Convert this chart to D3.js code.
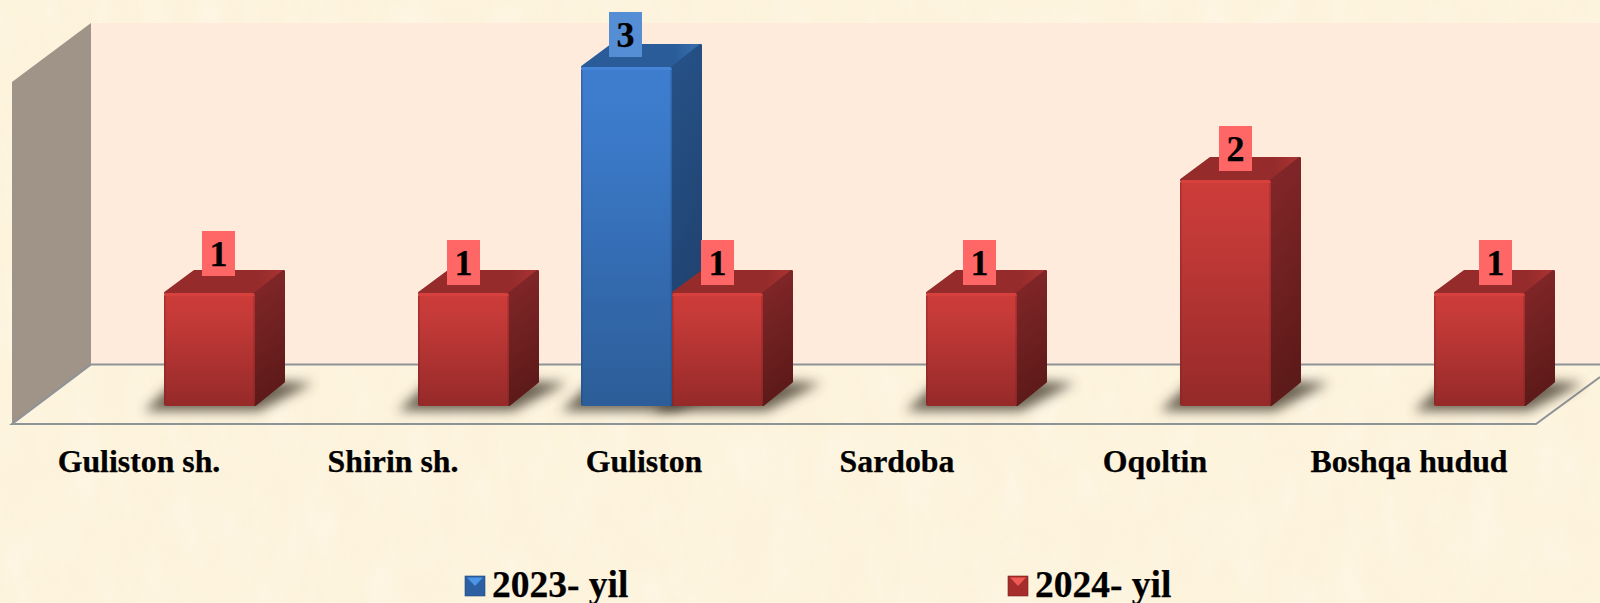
<!DOCTYPE html>
<html><head><meta charset="utf-8">
<script src="https://cdn.jsdelivr.net/npm/d3@7/dist/d3.min.js"></script>
<style>html,body{margin:0;padding:0;background:#fdf3dc;overflow:hidden}svg{display:block}text{font-family:"Liberation Serif",serif;font-weight:bold;fill:#000;stroke:#000;stroke-width:.25px}</style>
</head><body><svg id="c" width="1600" height="603"></svg>
<script>
const categories = ["Guliston sh.","Shirin sh.","Guliston","Sardoba","Oqoltin","Boshqa hudud"];
const seriesNames = ["2023- yil","2024- yil"];
const values2023 = [0,0,3,0,0,0];
const values2024 = [1,1,1,1,2,1];
// hand placement of the reference's data labels and category labels
const labelShift2023 = [[0,0],[0,0],[-1,-2],[0,0],[0,0],[0,0]];
const labelShift2024 = [[9,-9],[0,0],[0,0],[8,0],[10,-1],[16,0]];
const categoryShift = [0,0,-3,-4,0,0];

const W=1600,H=603,dx=30,dy=23;
const svg=d3.select("#c"), defs=svg.append("defs");
const y=d3.scaleLinear().domain([0,3]).range([406,67]);
const xFloor=d3.scaleBand().domain(categories).range([12,1536]);
const xGroup=d3.scaleBand().domain(categories).range([37,1561]).paddingInner(72/254).paddingOuter(36/254);
const xSer=d3.scaleBand().domain(seriesNames).range([0,xGroup.bandwidth()]);

function lg(id,stops,x2=0,y2=1){const g=defs.append("linearGradient").attr("id",id).attr("x1",0).attr("y1",0).attr("x2",x2).attr("y2",y2);
  stops.forEach(([o,c])=>g.append("stop").attr("offset",o).attr("stop-color",c));}
const pal=[
 {name:"b",front:["#3f7ecf","#3b79c8","#2c5d98"],side:["#265288","#1f3f6b"],top:["#2a5c9a","#2a5c9a","#3a70b0"],hi:"#4485d8",edge:"#1f4a80",label:"#558ed5",swA:"#4b96ea",swB:"#2d60a2"},
 {name:"r",front:["#cd3c39","#c43a38","#952a29"],side:["#85272a","#5c1a18"],top:["#952b2b","#952b2b","#ab3432"],hi:"#d6403c",edge:"#7c2020",label:"#ff6666",swA:"#f05a55",swB:"#a52d2c"}];
pal.forEach(p=>{
  lg("f"+p.name,[[0,p.front[0]],[.22,p.front[1]],[1,p.front[2]]]);
  lg("s"+p.name,[[0,p.side[0]],[1,p.side[1]]],.15,1);
  lg("t"+p.name,[[0,p.top[0]],[.78,p.top[1]],[1,p.top[2]]],1,0);
});
const soft=(id,s)=>defs.append("filter").attr("id",id).attr("x","-30%").attr("y","-60%").attr("width","160%").attr("height","220%").append("feGaussianBlur").attr("stdDeviation",s);
soft("sh",6); soft("edge",.7);

const noise=(id,fx,fy,seed,col,a,b)=>{const f=defs.append("filter").attr("id",id).attr("x",0).attr("y",0).attr("width","100%").attr("height","100%");
  f.append("feTurbulence").attr("type","fractalNoise").attr("baseFrequency",fx+" "+fy).attr("numOctaves",3).attr("seed",seed);
  f.append("feColorMatrix").attr("type","matrix").attr("values",`0 0 0 0 ${col[0]} 0 0 0 0 ${col[1]} 0 0 0 0 ${col[2]} ${a} 0 0 0 ${b}`);};
noise("n1",.022,.012,7,[.98,.91,.72],2.4,-1.0);
noise("n2",.03,.014,21,[1,.98,.92],2.4,-1.0);
svg.append("rect").attr("width",W).attr("height",H).attr("fill","#fdf3dc");
svg.append("rect").attr("width",W).attr("height",H).attr("filter","url(#n1)").attr("opacity",.45);
svg.append("rect").attr("width",W).attr("height",H).attr("filter","url(#n2)").attr("opacity",.25);

// walls and floor
const floorFront=y(0)+18, sideX=xFloor.range()[0], backX=91;
const wallTop=y(3)-44, wallBot=y(0)-41.5;
svg.append("rect").attr("x",backX).attr("y",wallTop).attr("width",W-backX).attr("height",wallBot-wallTop).attr("fill","#feebdc");
svg.append("path").attr("fill","#a09488").attr("d",d3.line()([[sideX,wallTop+59],[backX,wallTop],[backX,wallBot],[sideX,floorFront]]));
const gl=svg.append("g").attr("fill","none").attr("stroke","#8e9398").attr("stroke-width",2);
gl.append("path").attr("d",d3.line()([[W,wallBot],[backX,wallBot],[sideX,floorFront],[xFloor.range()[1],floorFront],[W,floorFront-47]]));

// flatten to marks
const marks=[];
categories.forEach((c,i)=>{
  [values2023[i],values2024[i]].forEach((v,k)=>{ if(v>0) marks.push({c,i,k,v,s:seriesNames[k],p:pal[k],
     shift:(k?labelShift2024:labelShift2023)[i]}); });
});
const bx=d=>xGroup(d.c)+xSer(d.s), bw=xSer.bandwidth();

svg.append("g").selectAll("path").data(marks).join("path")
  .attr("fill","#4a4132").attr("opacity",.8).attr("filter","url(#sh)")
  .attr("d",d=>{const l=bx(d),r=l+bw,b=y(0);return d3.line()([[l-20,b+5],[r+4,b+5],[r+dx+28,b-dy],[r+dx-10,b-dy-2],[l+10,b-dy]]);});

const g=svg.append("g").selectAll("g").data(marks).join("g");
g.each(function(d){
  const s=d3.select(this),l=bx(d),r=l+bw,t=y(d.v),b=y(0),P=d.p,line=d3.line();
  s.append("path").attr("fill",`url(#t${P.name})`).attr("stroke",`url(#t${P.name})`).attr("stroke-width",3).attr("stroke-linejoin","round")
    .attr("d",line([[l+1.5,t],[l+dx+.5,t-dy+1.5],[r+dx-1.5,t-dy+1.5],[r,t]])+"Z");
  s.append("path").attr("fill",`url(#s${P.name})`).attr("stroke",`url(#s${P.name})`).attr("stroke-width",3).attr("stroke-linejoin","round")
    .attr("d",line([[r,t+1],[r+dx-1.5,t-dy+1.5],[r+dx-1.5,b-dy-1.5],[r,b-1.5]])+"Z");
  s.append("rect").attr("x",l).attr("y",t).attr("width",bw).attr("height",b-t).attr("rx",3).attr("fill",`url(#f${P.name})`);
  s.append("rect").attr("x",l+1).attr("y",t).attr("width",bw-2).attr("height",3).attr("rx",1.5).attr("fill",P.hi).attr("filter","url(#edge)");
  s.append("rect").attr("x",l).attr("y",t+3).attr("width",1.6).attr("height",b-t-3).attr("fill",P.edge).attr("opacity",.4).attr("filter","url(#edge)");
  s.append("rect").attr("x",r-1.6).attr("y",t+3).attr("width",1.6).attr("height",b-t-3).attr("fill",P.edge).attr("opacity",.4).attr("filter","url(#edge)");
});

// data labels
const lab=svg.append("g").selectAll("g").data(marks).join("g")
  .attr("transform",d=>`translate(${bx(d)+bw/2+d.shift[0]},${y(d.v)-53+d.shift[1]})`);
lab.append("rect").attr("x",-16.5).attr("width",33).attr("height",45).attr("fill",d=>d.p.label);
lab.append("text").attr("y",34.5).attr("text-anchor","middle").attr("font-size",36).text(d=>d.v);

// category labels
svg.append("g").selectAll("text").data(categories).join("text")
  .attr("x",(c,i)=>xFloor(c)+xFloor.bandwidth()/2+categoryShift[i]).attr("y",472).attr("text-anchor","middle").attr("font-size",31.8).text(c=>c);

// legend
const lx=d3.scaleOrdinal().domain(seriesNames).range([465,1008]);
const lgd=svg.append("g").selectAll("g").data(seriesNames).join("g").attr("transform",s=>`translate(${lx(s)},576)`);
lgd.each(function(s,i){const e=d3.select(this),P=pal[i];
  e.append("rect").attr("width",20).attr("height",20).attr("fill",P.swB).attr("stroke",P.edge).attr("stroke-width",.6);
  e.append("path").attr("d",d3.line()([[2,1.5],[18,1.5],[10,10]])+"Z").attr("fill",P.swA);
});
lgd.append("text").attr("x",27).attr("y",21).attr("font-size",37.5).text(s=>s);
</script></body></html>
